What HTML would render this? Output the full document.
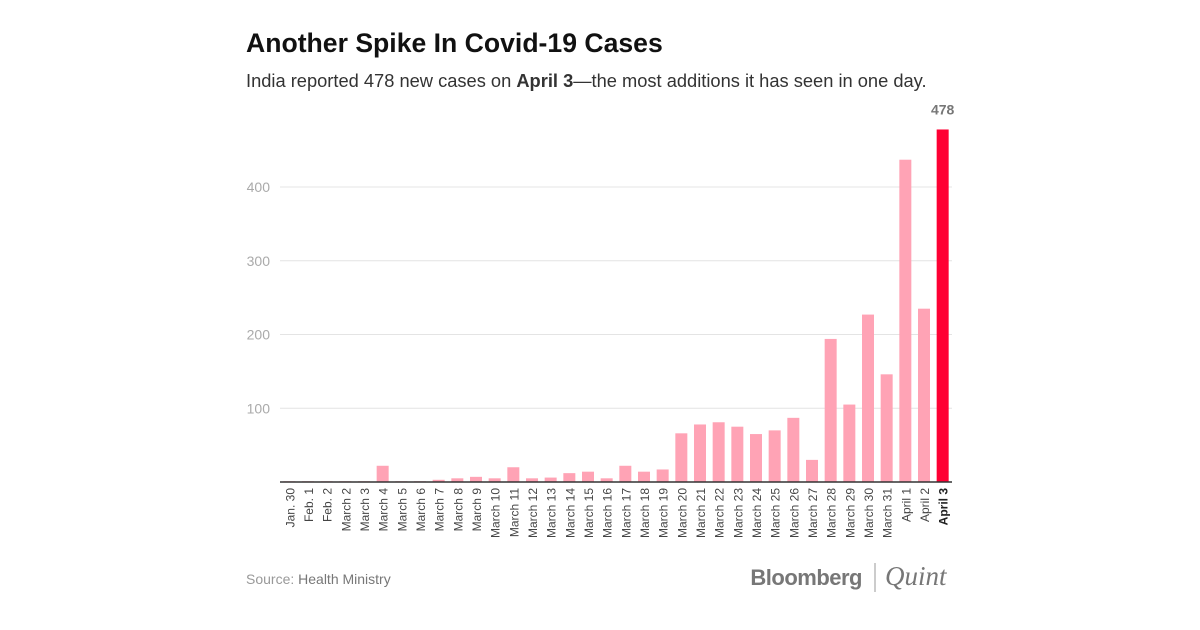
<!DOCTYPE html>
<html><head><meta charset="utf-8"><style>
body{margin:0;width:1200px;height:630px;background:#fff;font-family:"Liberation Sans",sans-serif;overflow:hidden}
</style></head><body>
<svg width="1200" height="630" style="position:absolute;left:0;top:0">
<text x="246" y="52" font-size="26.6" font-weight="bold" fill="#111">Another Spike In Covid-19 Cases</text>
<text x="246" y="87" font-size="18.3" fill="#333">India reported 478 new cases on <tspan font-weight="bold">April 3</tspan>—the most additions it has seen in one day.</text>
<g id="grid"></g><g id="bars"></g><g id="xl"></g>
<text x="246" y="584" font-size="14" fill="#999">Source: <tspan fill="#777">Health Ministry</tspan></text>
<text x="862" y="585" font-size="22" font-weight="bold" fill="#777" text-anchor="end" letter-spacing="-0.5">Bloomberg</text>
<line x1="875" y1="563" x2="875" y2="592" stroke="#999" stroke-width="1"/>
<text x="885" y="585" font-size="27" font-style="italic" fill="#777" font-family="Liberation Serif,serif">Quint</text>
</svg>
<script>
const categories=["Jan. 30","Feb. 1","Feb. 2","March 2","March 3","March 4","March 5","March 6","March 7","March 8","March 9","March 10","March 11","March 12","March 13","March 14","March 15","March 16","March 17","March 18","March 19","March 20","March 21","March 22","March 23","March 24","March 25","March 26","March 27","March 28","March 29","March 30","March 31","April 1","April 2","April 3"];
const values=[1,1,1,1,1,22,1,1,3,5,7,5,20,5,6,12,14,5,22,14,17,66,78,81,75,65,70,87,30,194,105,227,146,437,235,478];
const yTicks=[100,200,300,400];
const NS="http://www.w3.org/2000/svg";
const x0=280,x1=952,yBase=482,yScale=0.7375;
const step=(x1-x0)/categories.length;
const xc=i=>x0+step*(i+0.5);
const y=v=>yBase-v*yScale;
function mk(t,a,p){const e=document.createElementNS(NS,t);for(const k in a)e.setAttribute(k,a[k]);p.appendChild(e);return e;}
const g=document.getElementById('grid');
yTicks.forEach(t=>{
 const l=mk('line',{x1:x0,x2:x1,y1:y(t),y2:y(t),stroke:'#e4e4e4','stroke-width':1},g);
 
 
 const tx=mk('text',{x:x0-10,y:y(t)+5,'text-anchor':'end','font-size':14,fill:'#aaa'},g);
 tx.textContent=t;
 
 
});
const b=document.getElementById('bars'),xl=document.getElementById('xl');
values.forEach((v,i)=>{
 const last=i===values.length-1;
 const r=mk('rect',{x:xc(i)-6,y:y(v),width:12,height:v*yScale,fill:last?'#ff0033':'#ffa3b5'},b);
 
 
 const t=mk('text',{transform:`translate(${xc(i)+5},488) rotate(-90)`,'text-anchor':'end','font-size':12,fill:last?'#222':'#444','font-weight':last?'bold':'normal'},xl);
 t.textContent=categories[i];
 
 
 if(last){const vl=mk('text',{x:xc(i),y:y(v)-15,'text-anchor':'middle','font-size':14,'font-weight':'bold',fill:'#777'},b);
 vl.textContent=v;
 
 }
});
const ax=mk('line',{x1:x0,x2:x1,y1:yBase,y2:yBase,stroke:'#333','stroke-width':1.5},b);


</script>
</body></html>
